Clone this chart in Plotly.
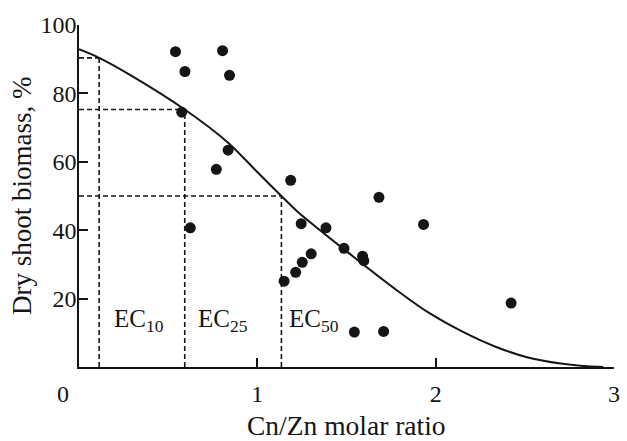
import plotly.graph_objects as go

# Scatter observations (Cn/Zn molar ratio, dry shoot biomass %)
obs_x = [0.541, 0.805, 0.594, 0.844, 0.576, 0.836, 0.770, 1.187, 0.624, 1.246,
         1.150, 1.215, 1.252, 1.302, 1.682, 1.385, 1.932, 1.486, 1.590, 1.597,
         2.423, 1.544, 1.708]
obs_y = [92.2, 92.5, 86.4, 85.3, 74.5, 63.4, 57.8, 54.6, 40.7, 41.9,
         25.1, 27.7, 30.6, 33.1, 49.6, 40.7, 41.7, 34.7, 32.4, 31.1,
         18.7, 10.2, 10.4]

# Fitted dose-response curve
curve_x = [0.0, 0.113, 0.30, 0.593, 0.836, 1.0, 1.135, 1.224, 1.501, 1.778,
           1.963, 2.148, 2.332, 2.517, 2.702, 2.85, 2.94]
curve_y = [92.9, 90.4, 85.0, 75.3, 65.6, 57.0, 50.0, 45.5, 33.8, 22.6,
           15.8, 10.4, 6.0, 2.8, 1.0, 0.2, 0.0]

# Effect concentrations
ec_names = ["EC<sub>10</sub>", "EC<sub>25</sub>", "EC<sub>50</sub>"]
ec_x = [0.113, 0.593, 1.135]
ec_y = [90.4, 75.3, 50.0]
ec_label_x = [0.187, 0.655, 1.169]

x_ticks = [1, 2, 3]
y_ticks = [20, 40, 60, 80, 100]

FONT = "Liberation Serif, Times New Roman, serif"
INK = "#151515"

fig = go.Figure()

# dashed guide lines
for ex, ey in zip(ec_x, ec_y):
    fig.add_trace(go.Scatter(x=[ex, ex], y=[0, ey], mode="lines",
                             line=dict(color=INK, width=1.6, dash="5px,3px"),
                             hoverinfo="skip", showlegend=False))
    fig.add_trace(go.Scatter(x=[0, ex], y=[ey, ey], mode="lines",
                             line=dict(color=INK, width=1.6, dash="5px,3px"),
                             hoverinfo="skip", showlegend=False))

fig.add_trace(go.Scatter(x=curve_x, y=curve_y, mode="lines",
                         line=dict(color=INK, width=2, shape="spline", smoothing=0.8),
                         showlegend=False))

fig.add_trace(go.Scatter(x=obs_x, y=obs_y, mode="markers",
                         marker=dict(color=INK, size=11),
                         showlegend=False))

annotations = []
for name, lx in zip(ec_names, ec_label_x):
    annotations.append(dict(x=lx, y=13.5, xref="x", yref="y", text=name,
                            showarrow=False, xanchor="left", yanchor="middle",
                            font=dict(family=FONT, size=25, color=INK)))

annotations.append(dict(x=0, y=0, xref="x", yref="y", text="0", showarrow=False,
                        xanchor="center", yanchor="middle", xshift=-16, yshift=-27,
                        font=dict(family=FONT, size=24, color=INK)))
annotations.append(dict(x=0.5, y=0, xref="paper", yref="paper", text="Cn/Zn molar ratio",
                        showarrow=False, xanchor="center", yanchor="middle", yshift=-58,
                        font=dict(family=FONT, size=27.5, color=INK)))
annotations.append(dict(x=0, y=0.5, xref="paper", yref="paper", text="Dry shoot biomass, %",
                        showarrow=False, xanchor="center", yanchor="middle", xshift=-57,
                        textangle=-90,
                        font=dict(family=FONT, size=27, color=INK)))

fig.update_layout(
    width=627, height=441,
    margin=dict(l=79, r=7, t=25, b=74),
    paper_bgcolor="white", plot_bgcolor="white",
    font=dict(family=FONT, size=24, color=INK),
    annotations=annotations,
    xaxis=dict(range=[0, 3], tickvals=x_ticks, ticks="inside", ticklen=9, tickwidth=1.5,
               tickcolor=INK, showline=True, linecolor=INK, linewidth=1.5,
               showgrid=False, zeroline=False, ticklabelstandoff=4),
    yaxis=dict(range=[0, 100], tickvals=y_ticks, ticks="inside", ticklen=9, tickwidth=1.5,
               tickcolor=INK, showline=True, linecolor=INK, linewidth=1.5,
               showgrid=False, zeroline=False, ticklabelstandoff=-4),
)

fig.write_html("out.html")
